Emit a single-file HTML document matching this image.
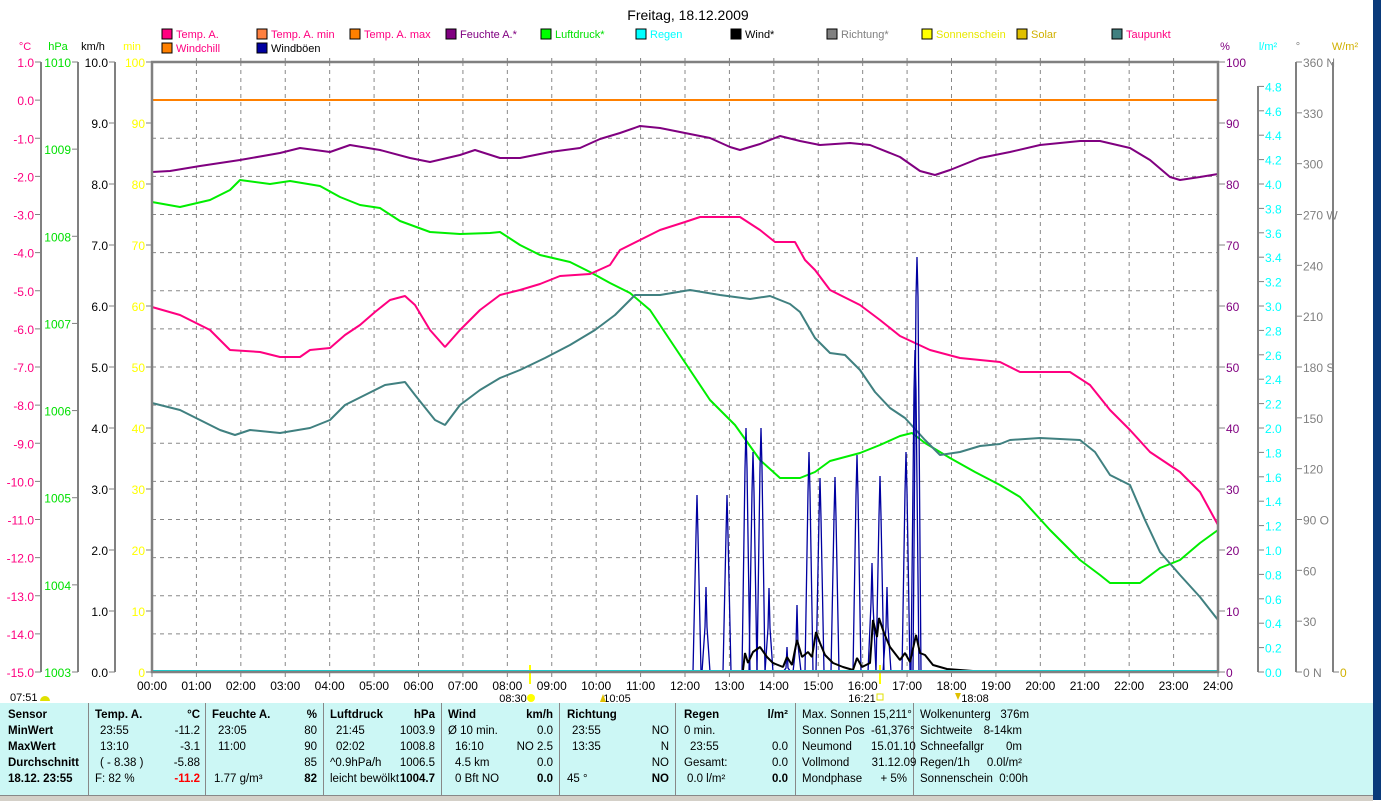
<!DOCTYPE html>
<html><head><meta charset="utf-8"><style>
body{margin:0;width:1381px;height:800px;overflow:hidden;background:#fff;font-family:"Liberation Sans",sans-serif;}
svg{position:absolute;left:0;top:0}
#tbl{position:absolute;left:0;top:703px;width:1373px;height:92px;background:#ccf7f5;font-size:11.5px;}
.c{position:absolute;top:0;height:92px;border-left:1px solid #888;}
.t{position:absolute;white-space:nowrap}
.b{font-weight:bold}
</style></head><body>
<svg id="s" width="1381" height="800" font-family="Liberation Sans, sans-serif"></svg>
<div id="tbl"></div>
<div style="position:absolute;left:1373px;top:0;width:8px;height:800px;background:#0a3a7a"></div>
<div style="position:absolute;left:0;top:795px;width:1373px;height:5px;background:#d4d0c8;border-top:1px solid #888"></div>
<script>
const S=document.getElementById('s');let h='';
const X0=152,X1=1218,Y0=62,Y1=672,W=X1-X0,H=Y1-Y0;
function T(x,y,t,c,a,fs,w){h+=`<text x="${x}" y="${y}" fill="${c}" font-size="${fs||12}" text-anchor="${a||'start'}" ${w?'font-weight="bold"':''}>${t}</text>`;}
function L(x1,y1,x2,y2,c,w,d){h+=`<line x1="${x1}" y1="${y1}" x2="${x2}" y2="${y2}" stroke="${c}" stroke-width="${w||1}" ${d?'stroke-dasharray="'+d+'"':''}/>`;}
T(688,20,'Freitag, 18.12.2009','#000','middle',14);
const lg=[[162,38,'#ff0080','Temp. A.','#ff0080'],[257,38,'#ff8040','Temp. A. min','#ff0080'],[350,38,'#ff8000','Temp. A. max','#ff0080'],[446,38,'#800080','Feuchte A.*','#800080'],[541,38,'#00ff00','Luftdruck*','#00e000'],[636,38,'#00ffff','Regen','#00ffff'],[731,38,'#000','Wind*','#000'],[827,38,'#808080','Richtung*','#808080'],[922,38,'#ffff00','Sonnenschein','#e8e800'],[1017,38,'#e0c000','Solar','#d0b000'],[1112,38,'#408080','Taupunkt','#ff0080'],[162,52,'#ff8000','Windchill','#ff0080'],[257,52,'#0000a0','Windböen','#000']];
lg.forEach(g=>{h+=`<rect x="${g[0]}" y="${g[1]-9}" width="10" height="10" fill="${g[2]}" stroke="#000"/>`;T(g[0]+14,g[1],g[3],g[4],'start',11);});
T(25,50,'°C','#ff0080','middle',11);T(58,50,'hPa','#00e000','middle',11);T(93,50,'km/h','#000','middle',11);T(132,50,'min','#ffff00','middle',11);
T(1225,50,'%','#800080','middle',11);T(1268,50,'l/m²','#00ffff','middle',11);T(1298,50,'°','#808080','middle',11);T(1345,50,'W/m²','#d0b000','middle',11);
for(let i=1;i<24;i++){let x=X0+W*i/24;L(x,Y0,x,Y1,'#888',1,'4,4');}
for(let i=1;i<16;i++){let y=Y0+H*i/16;L(X0,y,X1,y,'#888',1,'4,4');}
L(41,Y0,41,Y1,'#808080',2);L(78,Y0,78,Y1,'#808080',2);L(115,Y0,115,Y1,'#808080',2);
for(let i=0;i<=16;i++){let y=Y0+H*i/16,v=(1-i).toFixed(1);L(35,y,41,y,'#808080');T(34,y+5,v,'#ff0080','end',12);}
for(let i=0;i<=7;i++){let y=Y0+H*i/7;L(72,y,78,y,'#808080');T(71,y+5,1010-i,'#00e000','end',12);}
for(let i=0;i<=10;i++){let y=Y0+H*i/10;L(109,y,115,y,'#808080');T(108,y+5,(10-i).toFixed(1),'#000','end',12);L(146,y,152,y,'#808080');T(145,y+5,100-i*10,'#ffff00','end',12);}
L(1258,86,1258,Y1,'#808080',2);L(1296,Y0,1296,Y1,'#808080',2);L(1333,Y0,1333,Y1,'#808080',2);
for(let i=0;i<=10;i++){let y=Y0+H*i/10;L(1218,y,1225,y,'#808080');T(1226,y+5,100-i*10,'#800080','start',12);}
for(let i=0;i<=24;i++){let y=Y1-H*i/25;L(1258,y,1264,y,'#808080');T(1265,y+5,(i*0.2).toFixed(1),'#00ffff','start',12);}
const dl={360:'360 N',270:'270 W',180:'180 S',90:'90 O',0:'0 N'};
for(let i=0;i<=12;i++){let y=Y0+H*i/12,v=360-i*30;L(1296,y,1302,y,'#808080');T(1303,y+5,dl[v]||v,'#808080','start',12);}
L(1333,Y1,1339,Y1,'#808080');T(1340,Y1+5,'0','#d0b000','start',12);
for(let i=0;i<=24;i++){let x=X0+W*i/24;L(x,Y1,x,Y1+5,'#808080');T(x,690,(i<10?'0':'')+i+':00','#000','middle',12);}
L(530,665,530,684,'#ffff00',2);T(513,702,'08:30','#000','middle',11);h+='<circle cx="531" cy="698" r="4" fill="#ffff00"/>';
T(617,702,'10:05','#000','middle',11);h+='<path d="M600 702 L603 694 L606 702Z" fill="#e0c000"/>';
L(880,665,880,684,'#ffff00',2);T(862,702,'16:21','#000','middle',11);h+='<rect x="877" y="694" width="6" height="6" fill="none" stroke="#e0e000"/>';
T(975,702,'18:08','#000','middle',11);h+='<path d="M955 693 L961 693 L958 700Z" fill="#e0c000"/>';
T(10,701,'07:51','#000','start',11);h+='<path d="M40 701 A5 5 0 0 1 50 701Z" fill="#e0e000"/>';
L(X0,100,X1,100,'#ff8000',2);
function P(a,c,w){h+=`<polyline points="${a.map(p=>p.join(',')).join(' ')}" fill="none" stroke="${c}" stroke-width="${w||2}" stroke-linejoin="bevel"/>`;}
const hum=[[152,172],[170,171],[200,166],[240,160],[280,153],[300,148],[330,152],[350,145],[380,150],[410,158],[430,162],[460,155],[475,150],[500,158],[520,158],[550,152],[580,148],[600,139],[620,133],[640,126],[660,128],[680,132],[710,138],[730,147],[740,150],[760,144],[780,136],[800,141],[820,145],[850,143],[870,145],[900,157],[920,171],[935,175],[950,170],[980,158],[1010,152],[1040,145],[1080,141],[1100,141],[1130,148],[1150,160],[1170,177],[1180,180],[1200,177],[1218,174]];
const pr=[[152,202],[180,207],[210,200],[230,190],[240,180],[270,184],[290,181],[320,186],[340,197],[360,205],[380,208],[400,221],[430,232],[460,234],[490,233],[500,232],[520,245],[540,255],[570,262],[590,272],[610,283],[630,293],[650,310],[670,340],[690,370],[710,400],[735,425],[760,460],[780,478],[800,478],[815,472],[830,461],[860,453],[880,445],[900,436],[912,433],[925,443],[950,458],[975,472],[1000,485],[1020,497],[1050,530],[1080,560],[1100,575],[1110,583],[1140,583],[1160,568],[1180,560],[1200,543],[1218,530]];
const tp=[[152,307],[180,315],[210,330],[230,350],[260,352],[280,357],[300,357],[310,350],[330,348],[345,335],[360,325],[375,312],[390,300],[405,296],[415,305],[430,330],[445,347],[460,330],[480,310],[500,295],[520,290],[540,284],[560,276],[590,274],[610,265],[620,250],[640,240],[660,230],[685,222],[700,217],[740,217],[760,230],[775,242],[795,242],[805,260],[815,270],[830,290],[860,305],[880,320],[900,336],[930,350],[960,358],[1000,362],[1020,372],[1070,372],[1090,385],[1110,410],[1130,430],[1150,452],[1180,472],[1200,492],[1218,525]];
const dp=[[152,403],[180,410],[200,420],[220,430],[235,435],[250,430],[280,433],[310,428],[330,420],[345,405],[365,395],[385,385],[405,382],[415,395],[435,420],[445,425],[460,405],[480,390],[500,378],[520,370],[545,358],[570,345],[595,330],[615,315],[635,295],[660,295],[690,290],[720,295],[750,299],[770,296],[790,304],[800,312],[815,338],[830,353],[845,355],[860,370],[875,392],[890,408],[905,418],[925,440],[940,455],[960,452],[980,446],[1000,444],[1010,440],[1040,438],[1080,440],[1095,452],[1110,475],[1130,485],[1145,520],[1160,552],[1180,575],[1200,597],[1218,620]];
P(hum,'#800080');P(pr,'#00ee00');P(tp,'#ff0080');P(dp,'#408080');
const sp=[[697,495],[706,587],[727,495],[746,428],[753,452],[761,428],[769,588],[787,647],[797,605],[809,452],[820,478],[835,477],[857,455],[872,563],[880,476],[887,587],[906,452],[915,350],[917,257]];
sp.forEach(s=>{let m=Math.min(s[1]+40,Y1-4);h+=`<polyline points="${s[0]-4},${Y1} ${s[0]-1},${m} ${s[0]},${s[1]} ${s[0]+1},${m} ${s[0]+4},${Y1}" fill="none" stroke="#0000a0" stroke-width="1.3"/>`;});
const wd=[[743,670],[745,653],[748,663],[753,652],[760,647],[767,657],[773,663],[783,667],[787,657],[792,665],[797,640],[802,657],[808,652],[812,657],[816,632],[820,643],[825,655],[833,663],[843,667],[853,670],[857,658],[862,667],[870,663],[873,620],[877,637],[879,618],[884,633],[890,647],[900,660],[905,653],[910,662],[916,635],[920,653],[925,655],[933,665],[947,669],[973,671]];
P(wd,'#000',2);
L(X0,Y1-1,X1,Y1-1,'#00e0e0',2);
h+=`<rect x="${X0}" y="${Y0}" width="${W}" height="${H}" fill="none" stroke="#808080" stroke-width="2.5"/>`;
for(let i=1;i<24;i++){let x=X0+W*i/24;L(x,Y0-4,x,Y0,'#808080');}
S.innerHTML=h;
let t='';
const seps=[88,205,323,441,559,675,795,913];
seps.forEach(x=>t+=`<div class="c" style="left:${x}px"></div>`);
const R=[11,27,43,59,75];
function A(x,r,s,cls,al,col){t+=`<div class="t ${cls||''}" style="${al=='r'?'right:'+(1373-x):'left:'+x}px;top:${R[r]-5}px;${col?'color:'+col:''}">${s}</div>`;}
['Sensor','MinWert','MaxWert','Durchschnitt','18.12. 23:55'].forEach((s,i)=>A(8,i,s,'b'));
A(95,0,'Temp. A.','b');A(200,0,'°C','b','r');A(100,1,'23:55');A(200,1,'-11.2','', 'r');A(100,2,'13:10');A(200,2,'-3.1','','r');A(100,3,'( - 8.38 )');A(200,3,'-5.88','','r');A(95,4,'F: 82 %');A(200,4,'-11.2','b','r','#ff0000');
A(212,0,'Feuchte A.','b');A(317,0,'%','b','r');A(218,1,'23:05');A(317,1,'80','','r');A(218,2,'11:00');A(317,2,'90','','r');A(317,3,'85','','r');A(214,4,'1.77 g/m³');A(317,4,'82','b','r');
A(330,0,'Luftdruck','b');A(435,0,'hPa','b','r');A(336,1,'21:45');A(435,1,'1003.9','','r');A(336,2,'02:02');A(435,2,'1008.8','','r');A(330,3,'^0.9hPa/h');A(435,3,'1006.5','','r');A(330,4,'leicht bewölkt');A(435,4,'1004.7','b','r');
A(448,0,'Wind','b');A(553,0,'km/h','b','r');A(448,1,'Ø 10 min.');A(553,1,'0.0','','r');A(455,2,'16:10');A(553,2,'NO 2.5','','r');A(455,3,'4.5 km');A(553,3,'0.0','','r');A(455,4,'0 Bft NO');A(553,4,'0.0','b','r');
A(567,0,'Richtung','b');A(572,1,'23:55');A(669,1,'NO','','r');A(572,2,'13:35');A(669,2,'N','','r');A(669,3,'NO','','r');A(567,4,'45 °');A(669,4,'NO','b','r');
A(684,0,'Regen','b');A(788,0,'l/m²','b','r');A(684,1,'0 min.');A(690,2,'23:55');A(788,2,'0.0','','r');A(684,3,'Gesamt:');A(788,3,'0.0','','r');A(687,4,'0.0 l/m²');A(788,4,'0.0','b','r');
A(802,0,'Max. Sonnen 15,211°');A(802,1,'Sonnen Pos&nbsp; -61,376°');A(802,2,'Neumond&nbsp;&nbsp;&nbsp;&nbsp;&nbsp; 15.01.10');A(802,3,'Vollmond&nbsp;&nbsp;&nbsp;&nbsp;&nbsp;&nbsp; 31.12.09');A(802,4,'Mondphase');A(907,4,'+ 5%','','r');
A(920,0,'Wolkenunterg&nbsp;&nbsp; 376m');A(920,1,'Sichtweite');A(1022,1,'8-14km','','r');A(920,2,'Schneefallgr');A(1022,2,'0m','','r');A(920,3,'Regen/1h');A(1022,3,'0.0l/m²','','r');A(920,4,'Sonnenschein&nbsp; 0:00h');
document.getElementById('tbl').innerHTML=t;
</script>
</body></html>
